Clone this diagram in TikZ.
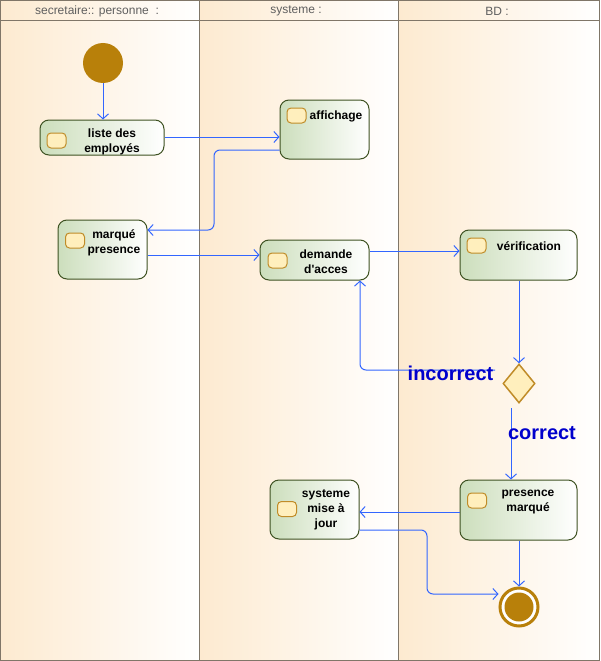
\documentclass[tikz,border=0pt]{standalone}
\usepackage{fontspec}
\setmainfont{Liberation Sans}
\usetikzlibrary{shapes.geometric,arrows.meta}
\definecolor{lanebg}{RGB}{253,234,208}
\definecolor{laneline}{RGB}{128,118,104}
\definecolor{hdrtext}{RGB}{95,95,95}
\definecolor{actfill}{RGB}{204,222,188}
\definecolor{actline}{RGB}{62,82,34}
\definecolor{iconfill}{RGB}{255,239,189}
\definecolor{iconline}{RGB}{192,140,40}
\definecolor{gold}{RGB}{184,128,10}
\definecolor{flowblue}{RGB}{51,102,255}
\definecolor{guard}{RGB}{0,0,204}
\tikzset{
  lane/.style={left color=lanebg, right color=white},
  hdr/.style={font=\fontsize{12}{14}\selectfont, text=hdrtext, inner sep=0},
  actbox/.style={draw=actline, line width=1pt, rounded corners=9pt, left color=actfill, right color=white, inner sep=0},
  icon/.style={draw=iconline, fill=iconfill, rounded corners=4pt, minimum width=19pt, minimum height=15pt, inner sep=0, line width=1pt},
  lbl/.style={font=\bfseries\fontsize{12}{15}\selectfont, align=center, inner sep=0},
  guardlbl/.style={font=\bfseries\fontsize{20}{24}\selectfont, text=guard, inner sep=0},
  flow/.style={draw=flowblue, line width=1pt, -{Straight Barb[length=5pt,width=11pt,line width=1pt]}},
}
\begin{document}
\begin{tikzpicture}[x=1pt,y=-1pt]
\useasboundingbox (0,0) rectangle (600,661);
% lanes
\shade[lane] (0,0) rectangle (199,661);
\shade[lane] (199,0) rectangle (398,661);
\shade[lane] (398,0) rectangle (600,661);
\draw[laneline, line width=1pt] (0.5,0.5) rectangle (599.5,660.5);
\draw[laneline, line width=1pt] (199,0) -- (199,661);
\draw[laneline, line width=1pt] (398,0) -- (398,661);
\draw[laneline, line width=1pt] (0,21) -- (600,21);
\node[hdr] (h1) at (97,11) {secretaire:: personne\ \ :};
\node[hdr] (h2) at (296,11) {systeme :};
\node[hdr] (h3) at (497,11) {BD :};

% initial
\node[circle, fill=gold, minimum size=40pt, inner sep=0] (init) at (103,63) {};

% actions
\node[actbox, minimum width=124pt, minimum height=35pt] (liste) at (102,137.5) {};
\node[icon] (ic1) at (56.5,140.5) {};
\node[lbl] (t1) at (112,142) {liste des\\employés};

\node[actbox, minimum width=89pt, minimum height=59pt] (affichage) at (324.5,129.5) {};
\node[icon] (ic2) at (296.5,115.5) {};
\node[lbl] (t2) at (336,116.5) {affichage};

\node[actbox, minimum width=89pt, minimum height=59pt] (marque) at (102.5,249.5) {};
\node[icon] (ic3) at (75,240.5) {};
\node[lbl] (t3) at (114,242.5) {marqué\\presence};

\node[actbox, minimum width=109pt, minimum height=40pt] (demande) at (314.5,260) {};
\node[icon] (ic4) at (277.5,260.5) {};
\node[lbl] (t4) at (326,262) {demande\\d\textquotesingle acces};

\node[actbox, minimum width=117pt, minimum height=50pt] (verif) at (518.5,255) {};
\node[icon] (ic5) at (476.5,245.5) {};
\node[lbl] (t5) at (529,246.5) {vérification};

\node[diamond, draw=iconline, fill=iconfill, line width=1.5pt, minimum width=32pt, minimum height=39pt, inner sep=0] (dec) at (519,383.5) {};

\node[actbox, minimum width=117pt, minimum height=60pt] (pres) at (518.5,510) {};
\node[icon] (ic6) at (477,500.5) {};
\node[lbl] (t6) at (528,502) {presence\\marqué};

\node[actbox, minimum width=89pt, minimum height=59pt] (sys) at (314.5,509.5) {};
\node[icon] (ic7) at (287,509) {};
\node[lbl] (t7) at (326,509.5) {systeme\\mise à\\jour};

% final
\node[circle, draw=gold, line width=3pt, fill=white, minimum size=38pt, inner sep=0] (final) at (519,607) {};
\node[circle, fill=gold, minimum size=29pt, inner sep=0] (finalin) at (519,607) {};

% connectors
\draw[flow] (init.south) -- (init.south |- liste.north);
\draw[flow] (liste.east |- 0,137) -- (affichage.west |- 0,137);
\draw[flow, rounded corners=6pt] (affichage.west |- 0,150) -- (214,150) -- (214,230) -- (marque.east |- 0,230);
\draw[flow] (marque.east |- 0,255) -- (demande.west |- 0,255);
\draw[flow] (demande.east |- 0,251) -- (verif.west |- 0,251);
\draw[flow] (verif.south -| dec.north) -- (dec.north);
\coordinate (incstart) at (495,370);
\draw[flow, rounded corners=6pt] (incstart) -- (360,370) -- (demande.south -| 360,0);
\node[guardlbl] (incorrect) at (450.5,373) {incorrect};
\coordinate (corstart) at (511,408);
\draw[flow] (corstart) -- (corstart |- pres.north);
\node[guardlbl] (correct) at (542,433) {correct};
\draw[flow] (pres.west |- 0,512) -- (sys.east |- 0,512);
\draw[flow, rounded corners=6pt] (sys.east |- 0,530) -- (427,530) -- (427,594) -- (final.west |- 0,594);
\draw[flow] (pres.south -| final.north) -- (final.north);
\end{tikzpicture}
\end{document}
